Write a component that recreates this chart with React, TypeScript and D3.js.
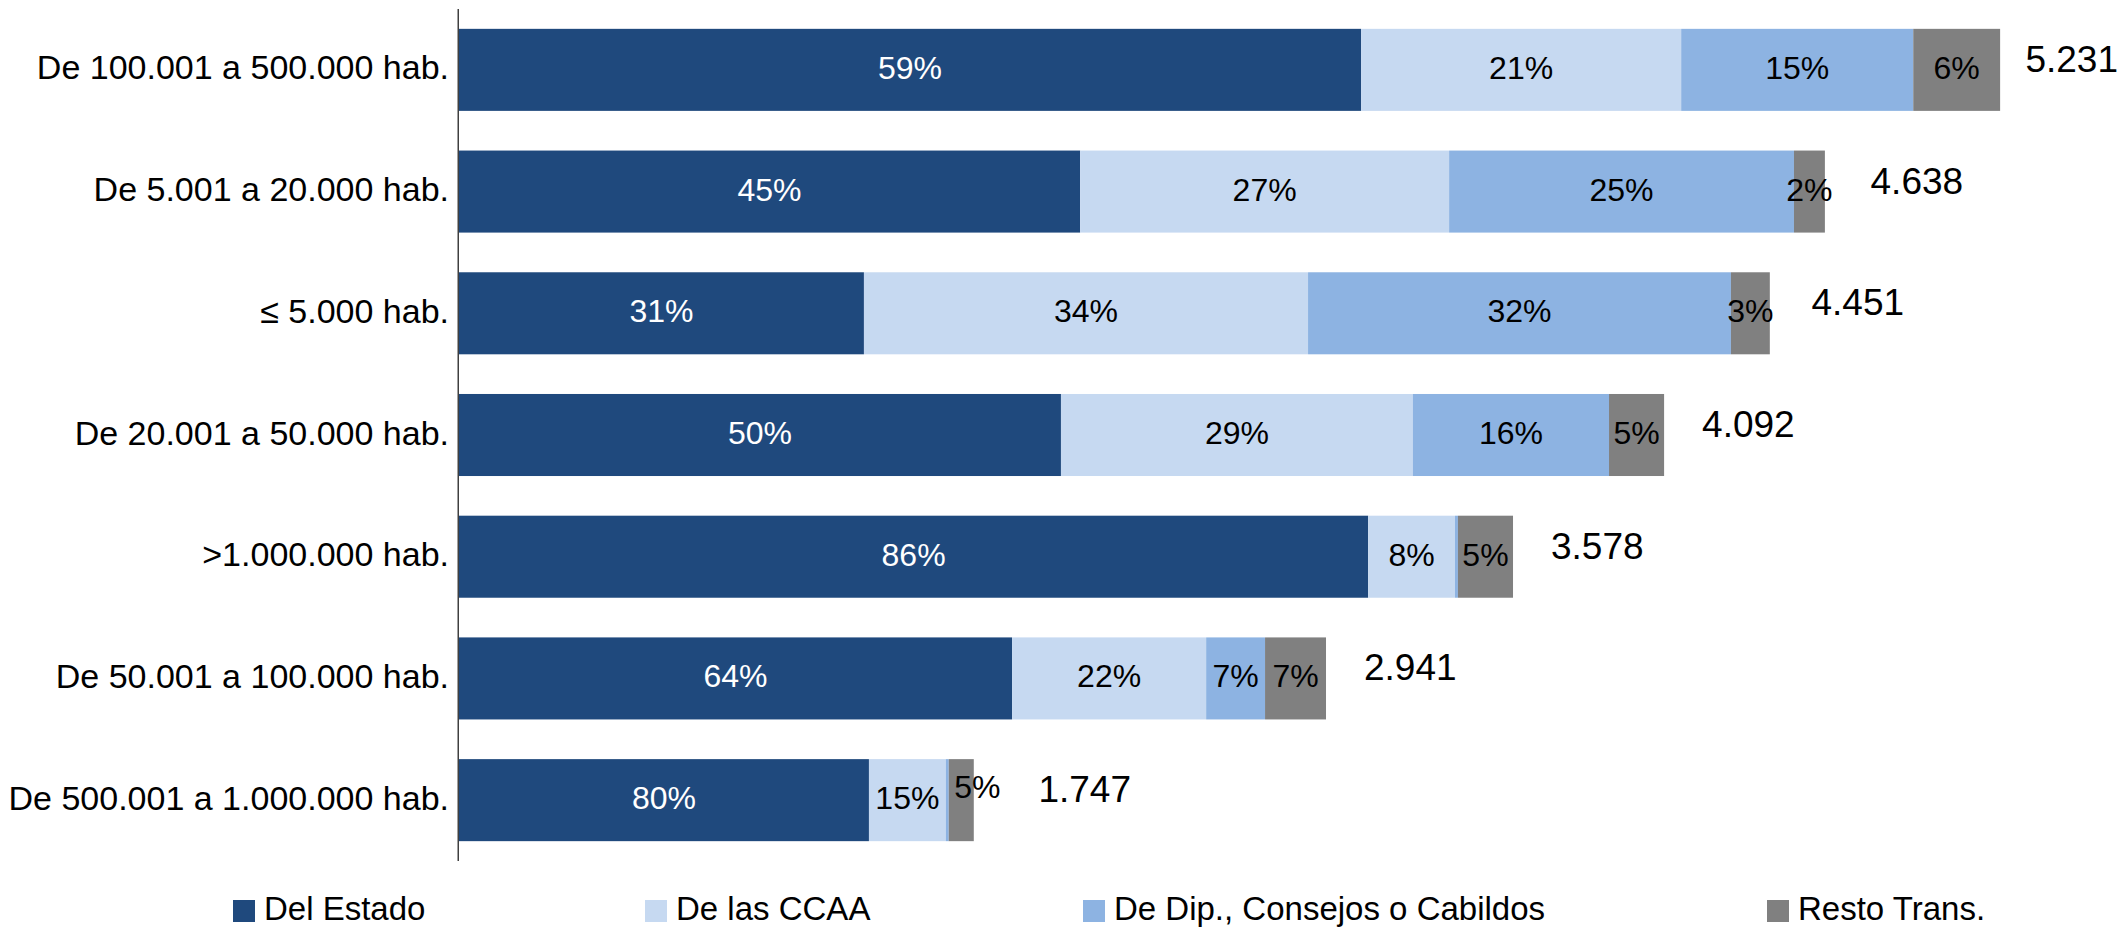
import React, { useEffect, useRef } from 'react';
import * as d3 from 'd3';

const categories = [
  'De 100.001 a 500.000 hab.',
  'De 5.001 a 20.000 hab.',
  '≤ 5.000 hab.',
  'De 20.001 a 50.000 hab.',
  '>1.000.000 hab.',
  'De 50.001 a 100.000 hab.',
  'De 500.001 a 1.000.000 hab.'
];

const seriesNames = ['Del Estado', 'De las CCAA', 'De Dip., Consejos o Cabildos', 'Resto Trans.'];

// amounts per segment (bar length = total)
const delEstado = [3063, 2109, 1375, 2044, 3087, 1878, 1392];
const deLasCCAA = [1087, 1253, 1508, 1195, 295, 659, 261];
const deDip = [788, 1171, 1436, 666, 10, 200, 10];
const restoTrans = [295, 105, 132, 187, 187, 207, 85];

const totals = ['5.231', '4.638', '4.451', '4.092', '3.578', '2.941', '1.747'];

// percentage labels as printed (null = no label)
const pctEstado = [59, 45, 31, 50, 86, 64, 80];
const pctCCAA = [21, 27, 34, 29, 8, 22, 15];
const pctDip = [15, 25, 32, 16, null, 7, null];
const pctResto = [6, 2, 3, 5, 5, 7, 5];

const COLORS = ['#1F497D', '#C6D9F1', '#8DB3E2', '#808080'];
const LABEL_COLORS = ['#ffffff', '#000000', '#000000', '#000000'];
const FONT = "'Liberation Sans', Arial, sans-serif";

const WIDTH = 2124;
const HEIGHT = 932;
const AXIS_X = 459;

const App: React.FC = () => {
  const svgRef = useRef<SVGSVGElement>(null);

  useEffect(() => {
    if (!svgRef.current) return;
    const svg = d3.select(svgRef.current);
    svg.selectAll('*').remove();

    const values = [delEstado, deLasCCAA, deDip, restoTrans];
    const pcts = [pctEstado, pctCCAA, pctDip, pctResto];

    const rows = categories.map((c, i) => {
      const row: any = { category: c, idx: i };
      seriesNames.forEach((s, k) => { row[s] = values[k][i]; });
      return row;
    });

    const stacked = d3.stack<any>().keys(seriesNames)(rows);

    const x = d3.scaleLinear().domain([0, 6000]).range([AXIS_X, AXIS_X + 6000 * 0.2945]);
    const y = d3.scaleBand<string>()
      .domain(categories)
      .range([9, 861])
      .paddingInner(0.326)
      .paddingOuter(0.163);

    const g = svg.append('g');

    // Stacked segments
    stacked.forEach((layer, k) => {
      g.append('g')
        .selectAll('rect')
        .data(layer)
        .enter().append('rect')
        .attr('x', d => x(d[0]))
        .attr('y', d => y(d.data.category) as number)
        .attr('width', d => x(d[1]) - x(d[0]))
        .attr('height', y.bandwidth())
        .attr('fill', COLORS[k]);
    });

    // right edge of what is drawn on each row (bar or overflowing label)
    const rowRight = rows.map((r, i) => x(stacked[stacked.length - 1][i][1]));

    // Percentage labels
    stacked.forEach((layer, k) => {
      g.append('g')
        .selectAll('text')
        .data(layer.filter((d: any) => pcts[k][d.data.idx] != null))
        .enter().append('text')
        .attr('x', (d: any) => {
          let cx = (x(d[0]) + x(d[1])) / 2;
          // last row grey label was nudged aside in the original
          if (k === 3 && d.data.idx === 6) cx += 16;
          return cx;
        })
        .attr('y', (d: any) => {
          let cy = (y(d.data.category) as number) + y.bandwidth() / 2 + 9;
          if (k === 3 && d.data.idx === 6) cy -= 11;
          return cy;
        })
        .attr('text-anchor', 'middle')
        .attr('fill', LABEL_COLORS[k])
        .style('font-family', FONT)
        .style('font-size', '32px')
        .text((d: any) => `${pcts[k][d.data.idx]}%`)
        .each(function (d: any) {
          const box = (this as SVGTextElement).getBBox();
          rowRight[d.data.idx] = Math.max(rowRight[d.data.idx], box.x + box.width);
        });
    });

    // Total labels
    const last = stacked[stacked.length - 1];
    g.append('g')
      .selectAll('text')
      .data(last)
      .enter().append('text')
      .attr('x', (d: any) => rowRight[d.data.idx] + 38)
      .attr('y', (d: any) => (y(d.data.category) as number) + y.bandwidth() / 2 + 2)
      .attr('fill', '#000')
      .style('font-family', FONT)
      .style('font-size', '37px')
      .text((d: any) => totals[d.data.idx])
      .each(function () {
        const el = this as SVGTextElement;
        const w = el.getComputedTextLength();
        const xx = +el.getAttribute('x')!;
        if (xx + w > WIDTH - 6) el.setAttribute('x', String(WIDTH - 6 - w));
      });

    // Category axis
    g.append('line')
      .attr('x1', AXIS_X - 0.75)
      .attr('x2', AXIS_X - 0.75)
      .attr('y1', 9)
      .attr('y2', 861)
      .attr('stroke', '#404040')
      .attr('stroke-width', 1.5);

    g.append('g')
      .selectAll('text')
      .data(categories)
      .enter().append('text')
      .attr('x', AXIS_X - 10)
      .attr('y', d => (y(d) as number) + y.bandwidth() / 2 + 9.5)
      .attr('text-anchor', 'end')
      .attr('fill', '#000')
      .style('font-family', FONT)
      .style('font-size', '34px')
      .text(d => d);

    // Legend
    const legendX = [233, 645, 1083, 1767];
    const legend = g.append('g')
      .selectAll('g')
      .data(seriesNames)
      .enter().append('g')
      .attr('transform', (d, i) => `translate(${legendX[i]},900)`);

    legend.append('rect')
      .attr('width', 22)
      .attr('height', 22)
      .attr('fill', (d, i) => COLORS[i]);

    legend.append('text')
      .attr('x', 31)
      .attr('y', 20)
      .attr('fill', '#000')
      .style('font-family', FONT)
      .style('font-size', '33px')
      .text(d => d);
  }, []);

  return (
    <svg
      ref={svgRef}
      width={WIDTH}
      height={HEIGHT}
      style={{ position: 'absolute', left: 0, top: 0, display: 'block', background: '#fff' }}
    />
  );
};

export default App;
